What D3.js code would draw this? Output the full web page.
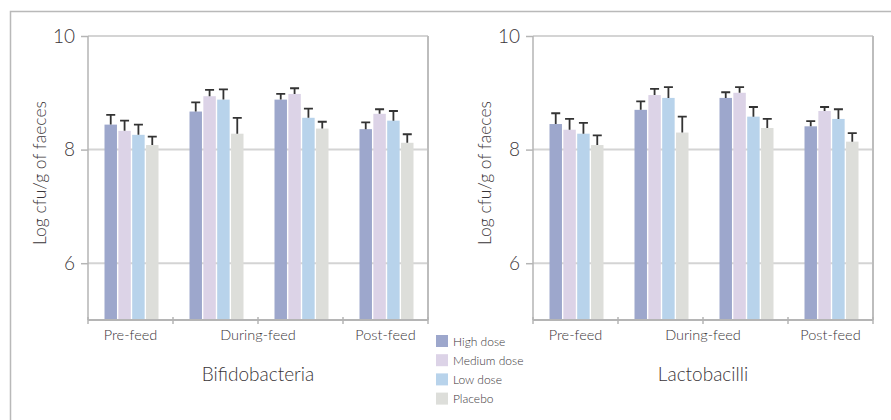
<!DOCTYPE html>
<html>
<head>
<meta charset="utf-8">
<script src="https://cdn.jsdelivr.net/npm/d3@7"></script>
<style>
  html, body { margin: 0; padding: 0; background: #fff; }
  svg { display: block; }
  text { font-family: Lato, "Open Sans", "DejaVu Sans", sans-serif; font-weight: 300; fill: #3a3538; }
</style>
</head>
<body>
<svg id="chart" width="891" height="420"></svg>
<script>
// Sampling points (the two during-feed samples share one axis label)
const timepoints = ["pre", "during1", "during2", "post"];
const axisLabels = [
  { text: "Pre-feed", from: "pre", to: "pre" },
  { text: "During-feed", from: "during1", to: "during2" },
  { text: "Post-feed", from: "post", to: "post" }
];
const doses = ["High dose", "Medium dose", "Low dose", "Placebo"];
const doseColors = ["#9da7cc", "#dcd3e7", "#b8d3eb", "#dddeda"];
const yTicks = [6, 8, 10];

// Bifidobacteria: mean log cfu/g per dose at each timepoint, and error (SD)
const bifidoHigh    = [8.44, 8.67, 8.88, 8.36];
const bifidoMedium  = [8.33, 8.94, 8.98, 8.63];
const bifidoLow     = [8.26, 8.88, 8.56, 8.51];
const bifidoPlacebo = [8.08, 8.28, 8.37, 8.12];
const bifidoErrHigh    = [0.17, 0.16, 0.10, 0.12];
const bifidoErrMedium  = [0.18, 0.11, 0.10, 0.08];
const bifidoErrLow     = [0.18, 0.18, 0.16, 0.17];
const bifidoErrPlacebo = [0.15, 0.28, 0.12, 0.15];

// Lactobacilli
const lactoHigh    = [8.45, 8.70, 8.91, 8.41];
const lactoMedium  = [8.35, 8.96, 9.00, 8.68];
const lactoLow     = [8.28, 8.91, 8.58, 8.54];
const lactoPlacebo = [8.08, 8.30, 8.38, 8.14];
const lactoErrHigh    = [0.19, 0.15, 0.10, 0.09];
const lactoErrMedium  = [0.19, 0.11, 0.10, 0.07];
const lactoErrLow     = [0.19, 0.19, 0.17, 0.17];
const lactoErrPlacebo = [0.17, 0.28, 0.16, 0.15];

const panels = [
  { title: "Bifidobacteria", left: 88,
    values: [bifidoHigh, bifidoMedium, bifidoLow, bifidoPlacebo],
    errors: [bifidoErrHigh, bifidoErrMedium, bifidoErrLow, bifidoErrPlacebo] },
  { title: "Lactobacilli", left: 533,
    values: [lactoHigh, lactoMedium, lactoLow, lactoPlacebo],
    errors: [lactoErrHigh, lactoErrMedium, lactoErrLow, lactoErrPlacebo] }
];

const svg = d3.select("#chart");

// outer frame (runs off the right and bottom edges)
svg.append("path")
  .attr("d", "M10.5,440 V11.5 H900")
  .attr("fill", "none").attr("stroke", "#b9b9b9").attr("stroke-width", 1.5);

const plotW = 340, plotTop = 36, plotBottom = 320;
const y = d3.scaleLinear().domain([5, 10]).range([plotBottom, plotTop]);

panels.forEach(p => {
  const g = svg.append("g").attr("transform", `translate(${p.left},0)`);
  const x0 = d3.scaleBand().domain(timepoints).range([0, plotW]);
  const x1 = d3.scaleBand().domain(doses).range([0, 54]).paddingInner(0.1);
  const groupOffset = (x0.bandwidth() - 54) / 2 + 1;

  // gridlines
  g.append("g").selectAll("line").data(yTicks).join("line")
    .attr("x1", 0).attr("x2", plotW)
    .attr("y1", d => y(d)).attr("y2", d => y(d))
    .attr("stroke", "#d4d4d4").attr("stroke-width", 2);

  // right border
  g.append("line").attr("x1", plotW).attr("x2", plotW)
    .attr("y1", plotTop).attr("y2", plotBottom)
    .attr("stroke", "#bdbdbd").attr("stroke-width", 2);

  // y axis
  const yAxis = g.append("g").call(d3.axisLeft(y).tickValues(yTicks).tickSize(7).tickPadding(6).tickFormat(d3.format("d")));
  yAxis.select(".domain").attr("stroke", "#b5b5b5").attr("stroke-width", 1.5).attr("d", `M0,${plotTop}V${plotBottom}`);
  yAxis.selectAll(".tick line").attr("stroke", "#b5b5b5").attr("stroke-width", 1.5);
  yAxis.selectAll(".tick text").attr("font-size", 19).attr("font-family", null).attr("fill", "#3a3538");

  // y axis title
  g.append("text")
    .attr("transform", `translate(-42,${(plotTop + plotBottom) / 2 - 5}) rotate(-90)`)
    .attr("text-anchor", "middle").attr("font-size", 17.5)
    .text("Log cfu/g of faeces");

  // bars
  const series = g.append("g").selectAll("g").data(doses).join("g")
    .attr("fill", (d, i) => doseColors[i]);
  series.selectAll("rect")
    .data((d, i) => timepoints.map((t, j) => ({ t, dose: d, v: p.values[i][j], e: p.errors[i][j] })))
    .join("rect")
    .attr("x", d => x0(d.t) + groupOffset + x1(d.dose))
    .attr("width", x1.bandwidth())
    .attr("y", d => y(d.v))
    .attr("height", d => plotBottom - y(d.v));

  // error bars (upper whisker with cap)
  const errs = g.append("g").attr("stroke", "#333").attr("stroke-width", 1.8).attr("fill", "none");
  doses.forEach((dose, i) => {
    timepoints.forEach((t, j) => {
      const cx = x0(t) + groupOffset + x1(dose) + x1.bandwidth() / 2;
      const v = p.values[i][j], e = p.errors[i][j];
      errs.append("path").attr("d", `M${cx},${y(v)}V${y(v + e)}M${cx - 4.5},${y(v + e)}H${cx + 4.5}`);
    });
  });

  // x axis baseline and ticks at band boundaries
  const xa = g.append("g");
  xa.append("line").attr("x1", 0).attr("x2", plotW).attr("y1", plotBottom).attr("y2", plotBottom)
    .attr("stroke", "#b5b5b5").attr("stroke-width", 2);
  const bounds = timepoints.map(t => x0(t)).concat([plotW]);
  xa.selectAll("line.tk").data(bounds).join("line").attr("class", "tk")
    .attr("x1", d => d).attr("x2", d => d).attr("y1", plotBottom - 3).attr("y2", plotBottom + 4)
    .attr("stroke", "#b5b5b5").attr("stroke-width", 1.5);

  // category labels
  xa.selectAll("text").data(axisLabels).join("text")
    .attr("x", d => (x0(d.from) + x0(d.to) + x0.bandwidth()) / 2)
    .attr("y", 340).attr("text-anchor", "middle").attr("font-size", 14.5)
    .text(d => d.text);

  // panel title
  g.append("text").attr("x", plotW / 2).attr("y", 381)
    .attr("text-anchor", "middle").attr("font-size", 19)
    .text(p.title);
});

// legend
const legend = svg.append("g").attr("transform", "translate(436,335)");
const rows = legend.selectAll("g").data(doses).join("g")
  .attr("transform", (d, i) => `translate(0,${i * 19.2})`);
rows.append("rect").attr("width", 12).attr("height", 12).attr("fill", (d, i) => doseColors[i]);
rows.append("text").attr("x", 17).attr("y", 10.5).attr("font-size", 12).text(d => d);
</script>
</body>
</html>
